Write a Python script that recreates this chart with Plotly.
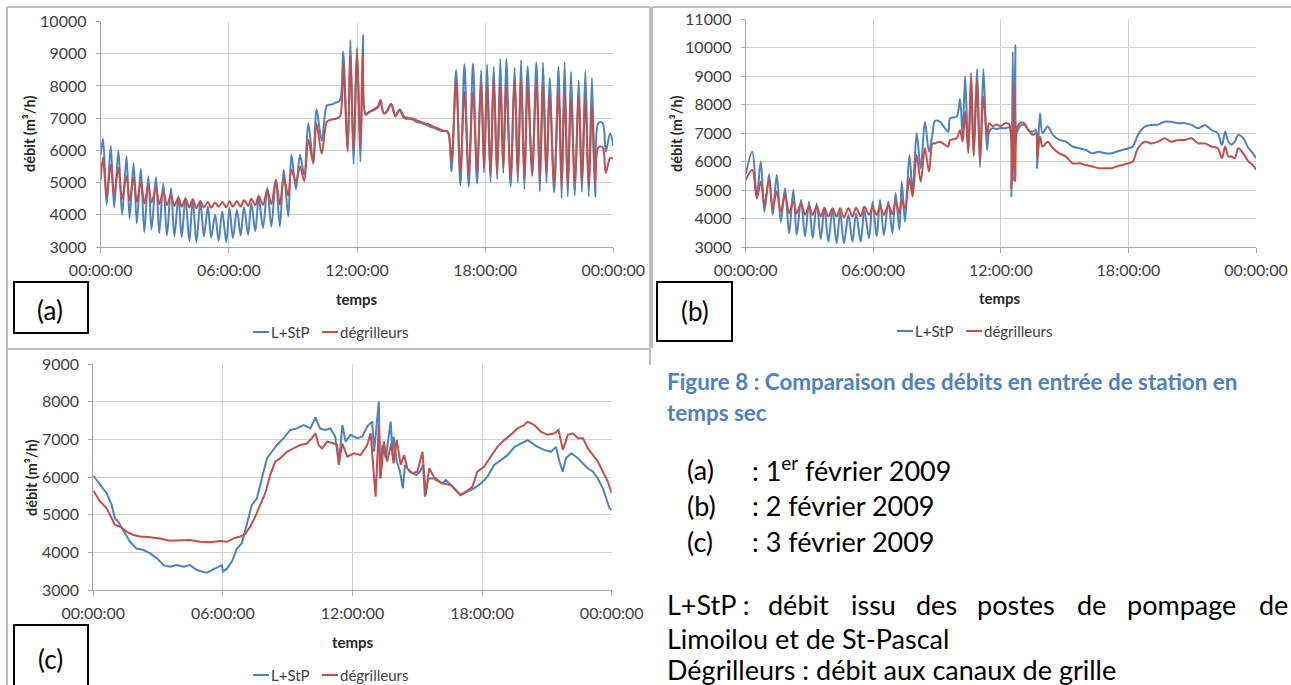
import plotly.graph_objects as go

W, H = 1291, 685
BLUE = "#4F81BD"
RED = "#C0504D"
GRID = "#D0D0D0"
AXIS = "#A6A6A6"
FRAME = "#BFBFBF"
TXT = "#404040"
FONT = "Lato, Carlito, Calibri, sans-serif"

TICK_HOURS = [0, 6, 12, 18, 24]
TICK_LABELS = ["00:00:00", "06:00:00", "12:00:00", "18:00:00", "00:00:00"]
SERIES_NAMES = ["L+StP", "dégrilleurs"]
PANEL_LABELS = ["(a)", "(b)", "(c)"]

# ---- (a) 1er février 2009 : heures et débits (m3/h) ----
TIME_A = [
    0.00, 0.11, 0.28, 0.47, 0.63, 0.83, 1.00, 1.21, 1.35, 1.54,
    1.69, 1.88, 2.04, 2.23, 2.38, 2.59, 2.74, 2.93, 3.10, 3.29,
    3.45, 3.64, 3.79, 3.97, 4.15, 4.31, 4.48, 4.67, 4.83, 5.02,
    5.17, 5.36, 5.52, 5.69, 5.88, 6.03, 6.19, 6.38, 6.55, 6.71,
    6.90, 7.05, 7.24, 7.40, 7.60, 7.80, 7.99, 8.20, 8.39, 8.57,
    8.78, 8.93, 9.14, 9.33, 9.53, 9.72, 9.95, 10.10, 10.35, 10.60,
    10.80, 11.00, 11.20, 11.35, 11.56, 11.69, 11.84, 12.00, 12.16, 12.28,
    12.40, 12.60, 12.80, 13.00, 13.10, 13.25, 13.40, 13.60, 13.80, 14.00,
    14.20, 14.40, 14.60, 14.80, 15.00, 15.20, 15.40, 15.60, 15.80, 16.00,
    16.25, 16.42, 16.64, 16.84, 17.03, 17.23, 17.43, 17.62, 17.81, 17.95,
    18.09, 18.25, 18.40, 18.56, 18.71, 18.85, 18.99, 19.19, 19.38, 19.53,
    19.68, 19.84, 19.99, 20.20, 20.40, 20.56, 20.71, 20.87, 21.02, 21.23,
    21.44, 21.58, 21.72, 21.87, 22.02, 22.20, 22.38, 22.53, 22.69, 22.85,
    23.00, 23.15, 23.30, 23.50, 23.65, 23.85, 24.00,
]
A_LSTP = [
    5850, 6360, 4310, 6140, 4230, 5990, 4000, 5810, 3880, 5600,
    3740, 5430, 3460, 5200, 3540, 5170, 3430, 4970, 3360, 4830,
    3330, 4570, 3310, 4520, 3180, 4490, 3150, 4400, 3330, 4260,
    3300, 4000, 3190, 4100, 3150, 4210, 3280, 4160, 3360, 4240,
    3380, 4360, 3490, 4520, 3590, 4830, 3640, 5090, 3640, 5400,
    3950, 5860, 4800, 5860, 5240, 6840, 5600, 7280, 6300, 7400,
    7420, 7480, 7550, 9060, 5960, 9430, 5570, 9050, 5650, 9580,
    7100, 7200, 7250, 7350, 7560, 7150, 7200, 7440, 7050, 7250,
    7000, 6980, 6960, 6880, 6850, 6800, 6740, 6700, 6640, 6600,
    6580, 5340, 8490, 4920, 8670, 4870, 8700, 4970, 8490, 5300,
    8670, 5020, 8600, 5100, 8840, 5290, 8840, 4880, 8570, 5000,
    8800, 4800, 8600, 5200, 8730, 4720, 8730, 5000, 8250, 4700,
    8600, 4510, 8730, 4560, 8440, 4610, 8180, 4700, 8460, 4560,
    8250, 4560, 6850, 6850, 5960, 6530, 6150,
]
A_DEG = [
    5100, 5780, 4570, 5550, 4600, 5450, 4500, 5200, 4450, 5150,
    4400, 5030, 4350, 4930, 4380, 4830, 4330, 4720, 4300, 4620,
    4280, 4540, 4250, 4500, 4230, 4480, 4210, 4430, 4230, 4400,
    4220, 4380, 4250, 4400, 4230, 4420, 4260, 4430, 4250, 4450,
    4280, 4500, 4300, 4580, 4310, 4780, 4330, 5090, 4320, 5140,
    4600, 5400, 5030, 5500, 5050, 6330, 5600, 6840, 5900, 6900,
    6950, 6980, 7050, 8700, 6000, 8910, 6000, 9180, 6070, 9020,
    7150, 7200, 7280, 7380, 7560, 7150, 7220, 7440, 7080, 7270,
    7050, 7000, 6990, 6930, 6880, 6830, 6800, 6730, 6680, 6620,
    6570, 5650, 8130, 5300, 7820, 5250, 7820, 5350, 8080, 5500,
    8030, 5200, 8230, 5300, 8080, 5450, 8030, 5150, 8180, 5300,
    8230, 5100, 8030, 5350, 8180, 5100, 8030, 5250, 7720, 5000,
    7870, 4900, 7820, 4900, 7620, 4950, 7670, 5000, 7620, 4900,
    7360, 5000, 6100, 6100, 5300, 5760, 5750,
]

# ---- (b) 2 février 2009 ----
TIME_B = [
    0.00, 0.31, 0.52, 0.71, 0.88, 1.10, 1.27, 1.46, 1.65, 1.85,
    2.04, 2.24, 2.40, 2.60, 2.79, 2.98, 3.15, 3.34, 3.53, 3.70,
    3.89, 4.08, 4.28, 4.44, 4.62, 4.83, 5.02, 5.19, 5.41, 5.58,
    5.80, 5.97, 6.16, 6.32, 6.50, 6.71, 6.90, 7.05, 7.23, 7.34,
    7.49, 7.70, 7.85, 8.04, 8.23, 8.43, 8.62, 8.79, 8.90, 9.14,
    9.37, 9.53, 9.61, 9.92, 10.08, 10.20, 10.32, 10.47, 10.60, 10.72,
    10.88, 11.02, 11.18, 11.35, 11.45, 11.60, 11.80, 12.00, 12.20, 12.40,
    12.50, 12.56, 12.62, 12.68, 12.76, 12.90, 13.10, 13.29, 13.50, 13.65,
    13.71, 13.84, 13.96, 14.20, 14.45, 14.75, 15.06, 15.37, 15.70, 16.00,
    16.30, 16.60, 16.90, 17.20, 17.45, 17.70, 18.00, 18.20, 18.45, 18.77,
    19.08, 19.40, 19.70, 20.00, 20.35, 20.66, 20.97, 21.28, 21.60, 21.90,
    22.20, 22.40, 22.55, 22.70, 22.85, 23.00, 23.17, 23.40, 23.65, 23.85,
    24.00,
]
B_LSTP = [
    5560, 6350, 4770, 6000, 4240, 5560, 4130, 5530, 3890, 5060,
    3480, 5000, 3420, 4650, 3370, 4590, 3310, 4540, 3280, 4360,
    3190, 4300, 3130, 4240, 3130, 4130, 3190, 4180, 3190, 4300,
    3310, 4590, 3370, 4650, 3420, 4590, 3480, 4890, 3600, 5300,
    3890, 6230, 4950, 7000, 5770, 7400, 6350, 7000, 7430, 7400,
    7170, 7050, 7520, 7580, 8200, 6900, 9000, 6350, 8950, 6230,
    9250, 5800, 9250, 6400, 7050, 7170, 7150, 7180, 7170, 7200,
    4770, 9860, 5300, 10100, 7050, 7250, 7290, 7110, 7050, 7110,
    5770, 7700, 7000, 7230, 6940, 6760, 6700, 6530, 6470, 6410,
    6290, 6350, 6290, 6290, 6350, 6410, 6470, 6530, 6940, 7230,
    7290, 7300, 7400, 7400, 7350, 7350, 7290, 7170, 7290, 7110,
    7000, 6580, 7050, 6700, 6600, 6700, 6940, 6820, 6470, 6300,
    6120,
]
B_DEG = [
    5350, 5710, 4710, 5300, 4480, 5360, 4360, 4950, 4240, 4830,
    4190, 4590, 4190, 4540, 4130, 4420, 4130, 4420, 4070, 4380,
    4070, 4360, 4070, 4360, 4040, 4360, 4070, 4380, 4070, 4420,
    4130, 4380, 4130, 4420, 4130, 4480, 4160, 4590, 4190, 4650,
    4360, 5410, 4770, 6230, 5300, 6470, 5650, 6640, 6640, 6700,
    6590, 6530, 6760, 6820, 7100, 6700, 7760, 6300, 9120, 6200,
    8870, 6050, 8280, 6900, 7350, 7250, 7300, 7250, 7350, 7300,
    5060, 6000, 8750, 5300, 7170, 7350, 7350, 7110, 6940, 7000,
    6120, 6880, 6530, 6700, 6470, 6290, 6180, 5940, 5940, 5880,
    5830, 5770, 5770, 5770, 5830, 5880, 5940, 6000, 6470, 6700,
    6640, 6700, 6820, 6700, 6760, 6760, 6820, 6640, 6640, 6530,
    6470, 6120, 6530, 6180, 6180, 6120, 6470, 6290, 6000, 5880,
    5710,
]

# ---- (c) 3 février 2009 ----
TIME_C_LSTP = [
    0.00, 0.31, 0.62, 0.85, 1.00, 1.16, 1.39, 1.70, 2.00, 2.32,
    2.63, 2.94, 3.25, 3.55, 3.86, 4.17, 4.48, 4.79, 5.02, 5.26,
    5.49, 5.72, 5.95, 6.00, 6.18, 6.41, 6.65, 6.88, 7.11, 7.34,
    7.57, 7.81, 8.04, 8.27, 8.50, 8.81, 9.12, 9.43, 9.74, 10.05,
    10.28, 10.51, 10.75, 10.98, 11.20, 11.37, 11.53, 11.68, 11.91, 12.22,
    12.45, 12.68, 12.91, 13.00, 13.22, 13.27, 13.38, 13.54, 13.69, 13.77,
    13.85, 13.90, 14.05, 14.20, 14.33, 14.43, 14.65, 14.96, 15.12, 15.27,
    15.35, 15.50, 15.85, 16.16, 16.32, 16.55, 16.86, 17.00, 17.32, 17.63,
    17.94, 18.25, 18.56, 18.87, 19.18, 19.50, 19.80, 20.11, 20.34, 20.57,
    20.88, 21.19, 21.42, 21.58, 21.73, 21.88, 22.13, 22.44, 22.67, 22.90,
    23.13, 23.36, 23.59, 23.74, 23.90, 24.00,
]
C_LSTP = [
    6030, 5790, 5570, 5260, 4900, 4810, 4590, 4280, 4100, 4060,
    3970, 3840, 3660, 3620, 3660, 3620, 3660, 3530, 3490, 3460,
    3530, 3590, 3660, 3490, 3560, 3750, 4100, 4240, 4730, 5260,
    5430, 5960, 6500, 6670, 6850, 7030, 7250, 7290, 7380, 7290,
    7580, 7280, 7250, 7290, 7070, 6320, 7380, 6940, 7120, 7030,
    7070, 7340, 7470, 6670, 8000, 5960, 6850, 6500, 7160, 7470,
    6580, 7070, 6410, 6140, 5700, 6320, 6140, 6050, 6140, 6320,
    5480, 5960, 5960, 5830, 5920, 5790, 5610, 5520, 5610, 5700,
    5830, 6010, 6320, 6450, 6580, 6800, 6890, 6980, 6890, 6800,
    6720, 6670, 6800, 6410, 6140, 6500, 6630, 6500, 6360, 6230,
    6140, 5960, 5700, 5430, 5170, 5120,
]
TIME_C_DEG = [
    0.00, 0.31, 0.62, 0.85, 1.00, 1.24, 1.55, 1.85, 2.16, 2.63,
    3.09, 3.55, 4.02, 4.48, 4.95, 5.41, 5.87, 6.18, 6.49, 6.80,
    7.03, 7.26, 7.50, 7.73, 7.96, 8.19, 8.42, 8.66, 8.96, 9.27,
    9.58, 9.89, 10.12, 10.28, 10.43, 10.59, 10.83, 11.14, 11.29, 11.37,
    11.53, 11.76, 12.07, 12.37, 12.68, 12.84, 12.91, 13.07, 13.22, 13.30,
    13.45, 13.60, 13.80, 13.90, 14.05, 14.23, 14.39, 14.54, 14.77, 15.00,
    15.24, 15.39, 15.55, 15.85, 16.16, 16.55, 16.86, 17.00, 17.24, 17.55,
    17.78, 18.09, 18.40, 18.71, 19.02, 19.33, 19.64, 19.95, 20.11, 20.42,
    20.73, 21.04, 21.35, 21.54, 21.74, 21.97, 22.20, 22.44, 22.67, 22.90,
    23.13, 23.36, 23.59, 23.82, 24.00,
]
C_DEG = [
    5640, 5350, 5170, 4900, 4730, 4680, 4550, 4460, 4420, 4400,
    4370, 4310, 4330, 4330, 4280, 4270, 4300, 4280, 4370, 4420,
    4480, 4680, 4950, 5260, 5570, 6050, 6410, 6500, 6670, 6760,
    6850, 6890, 7030, 7160, 6850, 6760, 6940, 6890, 6850, 6360,
    6890, 6540, 6630, 6580, 6850, 7160, 6580, 5480, 7380, 5960,
    6940, 6410, 6890, 6360, 6980, 6320, 6580, 6230, 6100, 6140,
    6670, 5520, 6230, 5920, 5830, 5790, 5610, 5520, 5610, 5740,
    6140, 6270, 6540, 6800, 6980, 7120, 7290, 7380, 7470, 7380,
    7200, 7120, 7160, 7250, 6720, 7120, 7160, 7030, 7030, 6760,
    6580, 6410, 6140, 5880, 5570,
]


def px(x):
    return x / W


def py(y):
    return 1 - y / H


# Plot areas in pixels: left, right, top, bottom, y range
PANELS = [
    dict(sx="", l=100.7, r=613.3, t=21.5, b=247.0, yr=(3000, 10000), smooth=True,
         series=((TIME_A, A_LSTP), (TIME_A, A_DEG)),
         ytitle=(30, 134), xtitle=(357, 299), leg=(253, 332), box=(14, 282, 88, 333), lab=(50, 310)),
    dict(sx="2", l=745.7, r=1256.0, t=19.3, b=247.0, yr=(3000, 11000), smooth=True,
         series=((TIME_B, B_LSTP), (TIME_B, B_DEG)),
         ytitle=(677, 134), xtitle=(1000, 298), leg=(897, 331), box=(657, 282, 732, 341), lab=(695, 311)),
    dict(sx="3", l=93.3, r=611.7, t=364.0, b=590.0, yr=(3000, 9000), smooth=False,
         series=((TIME_C_LSTP, C_LSTP), (TIME_C_DEG, C_DEG)),
         ytitle=(32, 478), xtitle=(353, 642), leg=(253, 675), box=(14, 625, 88, 700), lab=(50, 659)),
]

fig = go.Figure()
layout = dict(
    width=W, height=H, margin=dict(l=0, r=0, t=0, b=0, autoexpand=False),
    paper_bgcolor="white", plot_bgcolor="white", showlegend=False,
    font=dict(family=FONT, color=TXT, size=14),
)
shapes = []
annotations = []

for p in PANELS:
    sx = p["sx"]
    for (tx, vals), color, name in zip(p["series"], (BLUE, RED), SERIES_NAMES):
        line = dict(color=color, width=2)
        if p["smooth"]:
            line.update(shape="spline", smoothing=0.9)
        fig.add_trace(go.Scatter(
            x=tx, y=vals, mode="lines", name=name, line=line,
            xaxis="x" + sx, yaxis="y" + sx, hoverinfo="skip",
        ))
    layout["xaxis" + sx] = dict(
        domain=[px(p["l"]), px(p["r"])], anchor="y" + sx, range=[0, 24],
        tickvals=TICK_HOURS, ticktext=TICK_LABELS, automargin=False,
        showgrid=True, gridcolor=GRID, gridwidth=1,
        showline=True, linecolor=AXIS, linewidth=1,
        ticks="outside", ticklen=5, tickcolor=AXIS,
        tickfont=dict(family=FONT, size=16, color=TXT),
        ticklabelstandoff=4, zeroline=False, fixedrange=True,
    )
    layout["yaxis" + sx] = dict(
        domain=[py(p["b"]), py(p["t"])], anchor="x" + sx, range=list(p["yr"]),
        dtick=1000, tick0=0, tickformat="d", automargin=False,
        showgrid=True, gridcolor=GRID, gridwidth=1,
        showline=True, linecolor=AXIS, linewidth=1,
        ticks="outside", ticklen=4, tickcolor=AXIS,
        tickfont=dict(family=FONT, size=16, color=TXT),
        ticklabelstandoff=6, zeroline=False, fixedrange=True,
    )
    # axis titles
    annotations.append(dict(
        text="<b>débit (m³/h)</b>", x=px(p["ytitle"][0]), y=py(p["ytitle"][1]),
        xref="paper", yref="paper", showarrow=False, textangle=-90,
        font=dict(family=FONT, size=14.5, color="#262626"), xanchor="center", yanchor="middle",
    ))
    annotations.append(dict(
        text="<b>temps</b>", x=px(p["xtitle"][0]), y=py(p["xtitle"][1]),
        xref="paper", yref="paper", showarrow=False,
        font=dict(family=FONT, size=15, color="#262626"), xanchor="center", yanchor="middle",
    ))
    # legend
    lx, ly = p["leg"]
    shapes.append(dict(type="line", xref="paper", yref="paper",
                       x0=px(lx), x1=px(lx + 16), y0=py(ly), y1=py(ly),
                       line=dict(color=BLUE, width=2)))
    annotations.append(dict(text=SERIES_NAMES[0], x=px(lx + 16), y=py(ly), xref="paper", yref="paper",
                            showarrow=False, xanchor="left", yanchor="middle",
                            font=dict(family=FONT, size=15, color=TXT)))
    shapes.append(dict(type="line", xref="paper", yref="paper",
                       x0=px(lx + 69), x1=px(lx + 85), y0=py(ly), y1=py(ly),
                       line=dict(color=RED, width=2)))
    annotations.append(dict(text=SERIES_NAMES[1], x=px(lx + 85), y=py(ly), xref="paper", yref="paper",
                            showarrow=False, xanchor="left", yanchor="middle",
                            font=dict(family=FONT, size=15, color=TXT)))
    # panel label box
    bx0, by0, bx1, by1 = p["box"]
    shapes.append(dict(type="rect", xref="paper", yref="paper",
                       x0=px(bx0), x1=px(bx1), y0=py(by1), y1=py(by0),
                       line=dict(color="black", width=2), fillcolor="white"))

for lab, p in zip(PANEL_LABELS, PANELS):
    annotations.append(dict(text=lab, x=px(p["lab"][0]), y=py(p["lab"][1]), xref="paper", yref="paper",
                            showarrow=False, xanchor="center", yanchor="middle",
                            font=dict(family=FONT, size=26, color="black")))


# chart frames
def hline(x0, x1, y):
    shapes.append(dict(type="line", xref="paper", yref="paper", x0=px(x0), x1=px(x1),
                       y0=py(y), y1=py(y), line=dict(color=FRAME, width=2)))


def vline(x, y0, y1):
    shapes.append(dict(type="line", xref="paper", yref="paper", x0=px(x), x1=px(x),
                       y0=py(y0), y1=py(y1), line=dict(color=FRAME, width=2)))


hline(7, 650, 7)
hline(7, 650, 349)
vline(7, 7, 685)
vline(650, 7, 365)
hline(652, 1291, 7)
vline(652, 7, 348)

# caption block
BODY = dict(family=FONT, size=27, color="black")
CAP = dict(family=FONT, size=22.4, color=BLUE)


def text(s, x, y, font, anchor="left"):
    annotations.append(dict(text=s, x=px(x), y=py(y), xref="paper", yref="paper", showarrow=False,
                            xanchor=anchor, yanchor="middle", font=font))


text("<b>Figure 8 : Comparaison des débits en entrée de station en</b>", 665, 381, CAP)
text("<b>temps sec</b>", 665, 412, CAP)
DATES = [": 1<sup>er</sup> février 2009", ": 2 février 2009", ": 3 février 2009"]
for lab, d, y in zip(PANEL_LABELS, DATES, (469, 505, 541)):
    text(lab, 685, y, BODY)
    text(d, 750, y, BODY)

WORDS = [("L+StP :", 665), ("débit", 766), ("issu", 849), ("des", 914), ("postes", 975),
         ("de", 1075), ("pompage", 1125)]
for w, x in WORDS:
    text(w, x, 604, BODY)
text("de", 1290, 604, BODY, anchor="right")
text("Limoilou et de St-Pascal", 665, 638, BODY)
text("Dégrilleurs : débit aux canaux de grille", 665, 669, BODY)

layout["shapes"] = shapes
layout["annotations"] = annotations
fig.update_layout(**layout)
fig.write_html("out.html")
